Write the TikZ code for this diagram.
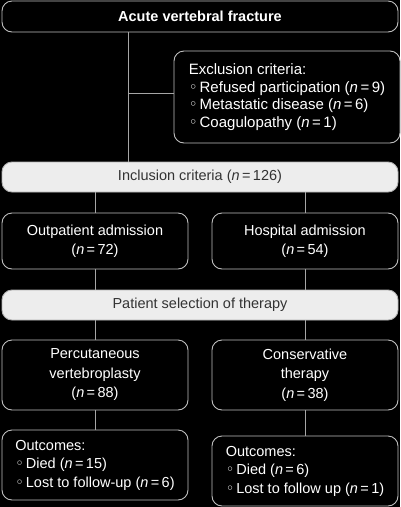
\documentclass[tikz,border=0pt]{standalone}
\usepackage{fontspec}
\setmainfont{Liberation Sans}
\newfontfamily\symfont{DejaVu Sans}
\newcommand{\nn}{\textit{n}}
\newcommand{\bul}{{\symfont ◦}\hspace{2pt}}
\begin{document}
\begin{tikzpicture}[x=1pt,y=-1pt,
  darkbox/.style={draw=black!25, line width=0.9pt, fill=black, text=white, rounded corners=10pt,
    font=\fontsize{14.5}{19.5}\selectfont, align=center, inner sep=0pt},
  lightbox/.style={draw=black!30, line width=0.9pt, fill=black!7, text=black!80, rounded corners=10pt,
    font=\fontsize{14.5}{19}\selectfont, align=center, inner sep=0pt, minimum width=396pt, minimum height=30pt},
  listbox/.style={darkbox, align=left, font=\fontsize{14.5}{18.5}\selectfont},
  link/.style={draw=black!35, line width=1pt}]
\fill[black] (0,0) rectangle (400,507);
\useasboundingbox (0,0) rectangle (400,507);
\node[darkbox, minimum width=396pt, minimum height=31pt, font=\fontsize{14.5}{16}\selectfont\bfseries] (top) at (200,16.5) {Acute vertebral fracture};
\node[listbox, minimum width=226pt, minimum height=92pt, font=\fontsize{15}{17.7}\selectfont] (excl) at (287,97)
  {Exclusion criteria:\\ \bul Refused participation (\nn\,=\,9)\\ \bul Metastatic disease (\nn\,=\,6)\\ \bul Coagulopathy (\nn\,=\,1)};
\node[lightbox] (incl) at (200,177) {Inclusion criteria (\nn\,=\,126)};
\node[darkbox, minimum width=186pt, minimum height=56pt] (outp) at (95,241) {Outpatient admission\\(\nn\,=\,72)};
\node[darkbox, minimum width=186pt, minimum height=56pt] (hosp) at (305,241) {Hospital admission\\(\nn\,=\,54)};
\node[lightbox] (sel) at (200,305) {Patient selection of therapy};
\node[darkbox, minimum width=186pt, minimum height=70pt] (perc) at (95,375) {Percutaneous\\vertebroplasty\\(\nn\,=\,88)};
\node[darkbox, minimum width=186pt, minimum height=70pt] (cons) at (305,375) {Conservative\\therapy\\(\nn\,=\,38)};
\node[listbox, minimum width=186pt, minimum height=70pt] (outL) at (95,465)
  {Outcomes:\\ \bul Died (\nn\,=\,15)\\ \bul Lost to follow-up (\nn\,=\,6)};
\node[listbox, minimum width=186pt, minimum height=70pt] (outR) at (305,471)
  {Outcomes:\\ \bul Died (\nn\,=\,6)\\ \bul Lost to follow up (\nn\,=\,1)};
\coordinate (sp) at (128,93);
\draw[link] (top.south -| sp) -- (incl.north -| sp);
\draw[link] (sp) -- (sp -| excl.west);
\draw[link] (incl.south -| outp.north) -- (outp.north);
\draw[link] (incl.south -| hosp.north) -- (hosp.north);
\draw[link] (outp.south) -- (sel.north -| outp.south);
\draw[link] (hosp.south) -- (sel.north -| hosp.south);
\draw[link] (sel.south -| perc.north) -- (perc.north);
\draw[link] (sel.south -| cons.north) -- (cons.north);
\draw[link] (perc.south) -- (outL.north);
\draw[link] (cons.south) -- (outR.north);
\end{tikzpicture}
\end{document}
